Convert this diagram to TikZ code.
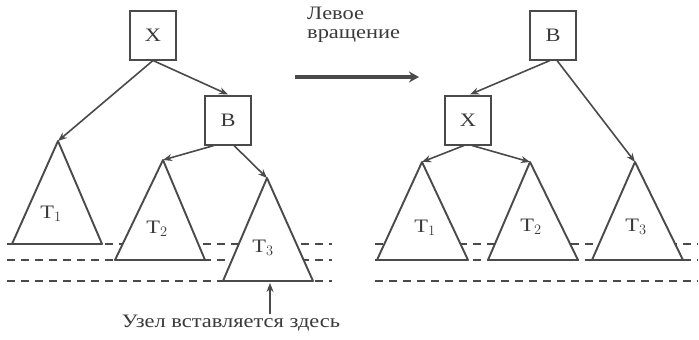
\documentclass[tikz,border=0pt]{standalone}
\usepackage{fontspec}
\setmainfont[FakeStretch=1.18]{Liberation Serif}
\usetikzlibrary{arrows.meta}
\definecolor{linec}{HTML}{4A4A4A}
\definecolor{txt}{HTML}{3A3A3A}
\begin{document}
\begin{tikzpicture}[x=1pt,y=-1pt,
 box/.style={draw=linec, line width=2pt, minimum width=46pt, minimum height=49pt, inner sep=0pt, font=\fontsize{19}{19}\selectfont, text=txt},
 edge/.style={draw=linec, line width=1.6pt, -{Stealth[length=9pt,width=7pt]}},
 tri/.style={draw=linec, fill=white, line width=1.9pt, line join=round},
 lvl/.style={draw=linec, line width=1.6pt, dash pattern=on 8pt off 6pt},
 lbl/.style={text=txt, font=\fontsize{19}{19}\selectfont, inner sep=0pt}]
\useasboundingbox (0,0) rectangle (699,340);
% level lines
\draw[lvl] (7,244) -- (332,244);
\draw[lvl] (7,260) -- (332,260);
\draw[lvl] (7,281) -- (332,281);
\draw[lvl] (375,244) -- (698,244);
\draw[lvl] (375,260) -- (698,260);
\draw[lvl] (375,281) -- (698,281);
% left tree
\node[box] (lx) at (153,35) {X};
\node[box] (lb) at (228,120) {B};
\coordinate (lt1) at (58,141);
\coordinate (lt2) at (163,160);
\coordinate (lt3) at (267,178);
\draw[tri] (lt1) -- (12,244) -- (102,244) -- cycle;
\draw[tri] (lt2) -- (115,260) -- (205,260) -- cycle;
\draw[tri] (lt3) -- (223,281) -- (313,281) -- cycle;
\node[lbl] at (51,214) {T$_1$};
\node[lbl] at (157,229) {T$_2$};
\node[lbl] at (263,248) {T$_3$};
\draw[edge] (lx.south) -- (lb.north);
\draw[edge] (lx.south) -- (lt1);
\draw[edge] ([xshift=-14pt]lb.south) -- (lt2);
\draw[edge] ([xshift=6pt]lb.south) -- (lt3);
\coordinate (ins) at (270,314);
\draw[draw=linec, line width=2.2pt, -{Stealth[length=9pt,width=7pt]}] (ins) -- (270,283);
\node[lbl, anchor=north] (instext) at (231,315) {Узел вставляется здесь};
% rotation arrow
\coordinate (ra) at (295,77);
\coordinate (rb) at (419,77);
\draw[draw=linec, line width=4pt, -{Stealth[length=10pt,width=11pt]}] (ra) -- (rb);
\node[lbl, anchor=north west, align=left] (rot) at (307,7) {Левое\\[0pt]вращение};
% right tree
\node[box] (rb2) at (553,35) {B};
\node[box] (rx) at (468,120) {X};
\coordinate (rt1) at (422,162);
\coordinate (rt2) at (530,162);
\coordinate (rt3) at (635,162);
\draw[tri] (rt1) -- (377,260) -- (468,260) -- cycle;
\draw[tri] (rt2) -- (488,260) -- (578,260) -- cycle;
\draw[tri] (rt3) -- (592,260) -- (683,260) -- cycle;
\node[lbl] at (425,228) {T$_1$};
\node[lbl] at (531,227) {T$_2$};
\node[lbl] at (636,227) {T$_3$};
\draw[edge] ([xshift=-3pt]rb2.south) -- ([xshift=2pt]rx.north);
\draw[edge] ([xshift=4pt]rb2.south) -- (rt3);
\draw[edge] ([xshift=-4pt]rx.south) -- (rt1);
\draw[edge] ([xshift=4pt]rx.south) -- (rt2);
\end{tikzpicture}
\end{document}
